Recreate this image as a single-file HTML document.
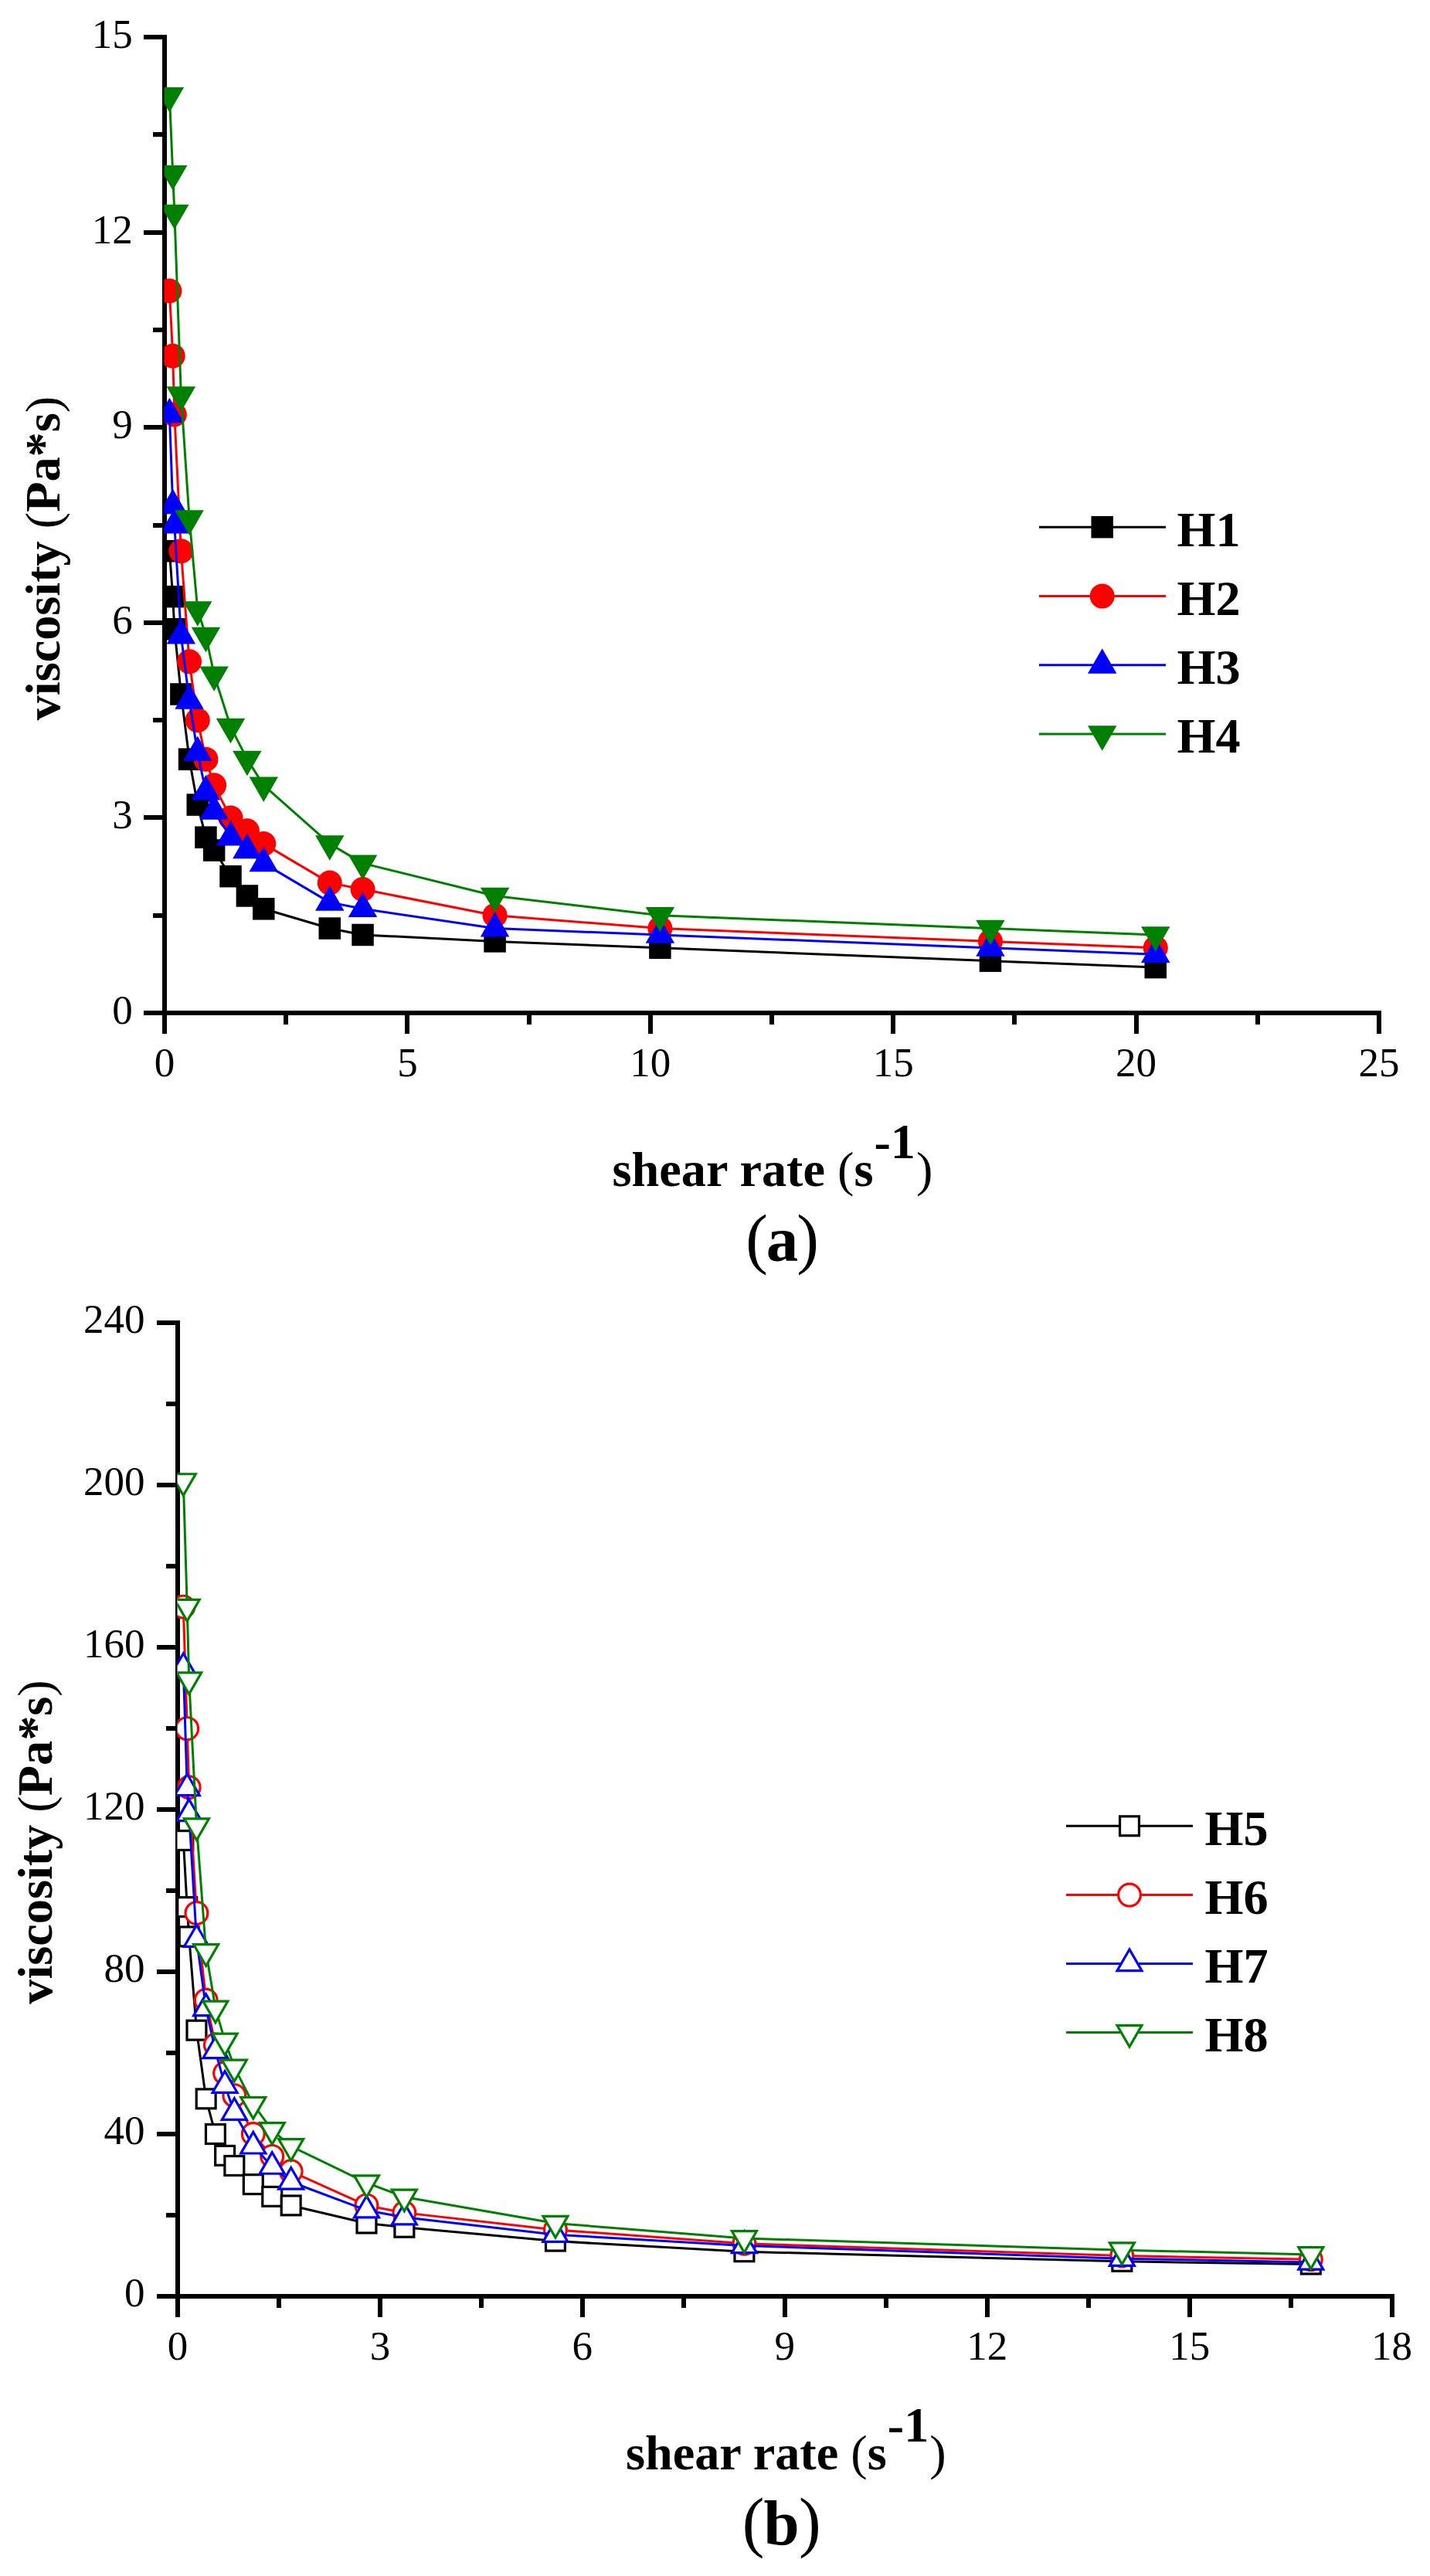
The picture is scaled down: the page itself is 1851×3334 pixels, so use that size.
<!DOCTYPE html>
<html lang="en"><head><meta charset="utf-8"><title>Viscosity vs shear rate</title>
<style>html,body{margin:0;padding:0;background:#fff}svg{display:block}</style></head>
<body>
<svg width="1851" height="3334" viewBox="0 0 1851 3334">
<rect width="1851" height="3334" fill="#fff"/>
<g id="chart1">
<g fill="#000" shape-rendering="crispEdges">
<rect x="210.00" y="45.15" width="6.0" height="1292.85"/>
<rect x="186.00" y="1308.00" width="1602.00" height="6.0"/>
<rect x="524.40" y="1314.00" width="6.0" height="24.0"/>
<rect x="838.80" y="1314.00" width="6.0" height="24.0"/>
<rect x="1153.20" y="1314.00" width="6.0" height="24.0"/>
<rect x="1467.60" y="1314.00" width="6.0" height="24.0"/>
<rect x="1782.00" y="1314.00" width="6.0" height="24.0"/>
<rect x="367.20" y="1314.00" width="6.0" height="12.0"/>
<rect x="681.60" y="1314.00" width="6.0" height="12.0"/>
<rect x="996.00" y="1314.00" width="6.0" height="12.0"/>
<rect x="1310.40" y="1314.00" width="6.0" height="12.0"/>
<rect x="1624.80" y="1314.00" width="6.0" height="12.0"/>
<rect x="186.00" y="1055.43" width="24.0" height="6.0"/>
<rect x="186.00" y="802.86" width="24.0" height="6.0"/>
<rect x="186.00" y="550.29" width="24.0" height="6.0"/>
<rect x="186.00" y="297.72" width="24.0" height="6.0"/>
<rect x="186.00" y="45.15" width="24.0" height="6.0"/>
<rect x="198.00" y="1181.71" width="12.0" height="6.0"/>
<rect x="198.00" y="929.14" width="12.0" height="6.0"/>
<rect x="198.00" y="676.58" width="12.0" height="6.0"/>
<rect x="198.00" y="424.00" width="12.0" height="6.0"/>
<rect x="198.00" y="171.43" width="12.0" height="6.0"/>
</g>
<g font-family="'Liberation Serif', serif" font-size="53" fill="#000">
<text transform="translate(213.00,1392.60) scale(1,1)" text-anchor="middle">0</text>
<text transform="translate(527.40,1392.60) scale(1,1)" text-anchor="middle">5</text>
<text transform="translate(841.80,1392.60) scale(1,1)" text-anchor="middle">10</text>
<text transform="translate(1156.20,1392.60) scale(1,1)" text-anchor="middle">15</text>
<text transform="translate(1470.60,1392.60) scale(1,1)" text-anchor="middle">20</text>
<text transform="translate(1785.00,1392.60) scale(1,1)" text-anchor="middle">25</text>
<text transform="translate(171.70,1324.80) scale(1,1)" text-anchor="end">0</text>
<text transform="translate(171.70,1072.23) scale(1,1)" text-anchor="end">3</text>
<text transform="translate(171.70,819.66) scale(1,1)" text-anchor="end">6</text>
<text transform="translate(171.70,567.09) scale(1,1)" text-anchor="end">9</text>
<text transform="translate(171.70,314.52) scale(1,1)" text-anchor="end">12</text>
<text transform="translate(171.70,61.95) scale(1,1)" text-anchor="end">15</text>
</g>
<clipPath id="clip1"><rect x="212.50" y="8.15" width="1632.00" height="1302.85"/></clipPath>
<g clip-path="url(#clip1)">
<polyline points="219.41,713.25 223.69,772.18 225.83,814.28 234.38,898.47 245.07,982.66 255.76,1041.59 266.45,1083.69 277.14,1100.53 298.52,1134.20 319.90,1159.46 341.28,1176.30 426.79,1201.55 469.55,1209.97 640.58,1218.39 854.38,1226.81 1281.96,1243.65 1495.75,1252.07" fill="none" stroke="#000000" stroke-width="3.0" stroke-linejoin="round"/>
<rect x="205.16" y="699.00" width="28.5" height="28.5" fill="#000000"/>
<rect x="209.44" y="757.93" width="28.5" height="28.5" fill="#000000"/>
<rect x="211.58" y="800.03" width="28.5" height="28.5" fill="#000000"/>
<rect x="220.13" y="884.22" width="28.5" height="28.5" fill="#000000"/>
<rect x="230.82" y="968.41" width="28.5" height="28.5" fill="#000000"/>
<rect x="241.51" y="1027.34" width="28.5" height="28.5" fill="#000000"/>
<rect x="252.20" y="1069.44" width="28.5" height="28.5" fill="#000000"/>
<rect x="262.89" y="1086.28" width="28.5" height="28.5" fill="#000000"/>
<rect x="284.27" y="1119.95" width="28.5" height="28.5" fill="#000000"/>
<rect x="305.65" y="1145.21" width="28.5" height="28.5" fill="#000000"/>
<rect x="327.03" y="1162.05" width="28.5" height="28.5" fill="#000000"/>
<rect x="412.54" y="1187.30" width="28.5" height="28.5" fill="#000000"/>
<rect x="455.30" y="1195.72" width="28.5" height="28.5" fill="#000000"/>
<rect x="626.33" y="1204.14" width="28.5" height="28.5" fill="#000000"/>
<rect x="840.13" y="1212.56" width="28.5" height="28.5" fill="#000000"/>
<rect x="1267.71" y="1229.40" width="28.5" height="28.5" fill="#000000"/>
<rect x="1481.50" y="1237.82" width="28.5" height="28.5" fill="#000000"/>
<polyline points="219.41,376.49 223.69,460.68 225.83,536.45 234.38,713.25 245.07,856.37 255.76,932.14 266.45,982.66 277.14,1016.34 298.52,1058.43 319.90,1075.27 341.28,1092.11 426.79,1142.62 469.55,1151.04 640.58,1184.71 854.38,1201.55 1281.96,1218.39 1495.75,1226.81" fill="none" stroke="#ff0000" stroke-width="3.0" stroke-linejoin="round"/>
<circle cx="219.41" cy="376.49" r="16.0" fill="#ff0000"/>
<circle cx="223.69" cy="460.68" r="16.0" fill="#ff0000"/>
<circle cx="225.83" cy="536.45" r="16.0" fill="#ff0000"/>
<circle cx="234.38" cy="713.25" r="16.0" fill="#ff0000"/>
<circle cx="245.07" cy="856.37" r="16.0" fill="#ff0000"/>
<circle cx="255.76" cy="932.14" r="16.0" fill="#ff0000"/>
<circle cx="266.45" cy="982.66" r="16.0" fill="#ff0000"/>
<circle cx="277.14" cy="1016.34" r="16.0" fill="#ff0000"/>
<circle cx="298.52" cy="1058.43" r="16.0" fill="#ff0000"/>
<circle cx="319.90" cy="1075.27" r="16.0" fill="#ff0000"/>
<circle cx="341.28" cy="1092.11" r="16.0" fill="#ff0000"/>
<circle cx="426.79" cy="1142.62" r="16.0" fill="#ff0000"/>
<circle cx="469.55" cy="1151.04" r="16.0" fill="#ff0000"/>
<circle cx="640.58" cy="1184.71" r="16.0" fill="#ff0000"/>
<circle cx="854.38" cy="1201.55" r="16.0" fill="#ff0000"/>
<circle cx="1281.96" cy="1218.39" r="16.0" fill="#ff0000"/>
<circle cx="1495.75" cy="1226.81" r="16.0" fill="#ff0000"/>
<polyline points="219.41,536.45 223.69,654.32 225.83,679.58 234.38,822.70 245.07,906.89 255.76,974.24 266.45,1024.75 277.14,1050.01 298.52,1083.69 319.90,1100.53 341.28,1117.36 426.79,1167.88 469.55,1176.30 640.58,1201.55 854.38,1209.97 1281.96,1226.81 1495.75,1235.23" fill="none" stroke="#0000ff" stroke-width="3.0" stroke-linejoin="round"/>
<polygon points="219.41,514.80 200.66,547.28 238.16,547.28" fill="#0000ff"/>
<polygon points="223.69,632.67 204.94,665.14 242.44,665.14" fill="#0000ff"/>
<polygon points="225.83,657.92 207.08,690.40 244.58,690.40" fill="#0000ff"/>
<polygon points="234.38,801.05 215.63,833.52 253.13,833.52" fill="#0000ff"/>
<polygon points="245.07,885.24 226.32,917.71 263.82,917.71" fill="#0000ff"/>
<polygon points="255.76,952.59 237.01,985.07 274.51,985.07" fill="#0000ff"/>
<polygon points="266.45,1003.10 247.70,1035.58 285.20,1035.58" fill="#0000ff"/>
<polygon points="277.14,1028.36 258.39,1060.84 295.89,1060.84" fill="#0000ff"/>
<polygon points="298.52,1062.04 279.77,1094.51 317.27,1094.51" fill="#0000ff"/>
<polygon points="319.90,1078.87 301.15,1111.35 338.65,1111.35" fill="#0000ff"/>
<polygon points="341.28,1095.71 322.53,1128.19 360.03,1128.19" fill="#0000ff"/>
<polygon points="426.79,1146.23 408.04,1178.70 445.54,1178.70" fill="#0000ff"/>
<polygon points="469.55,1154.65 450.80,1187.12 488.30,1187.12" fill="#0000ff"/>
<polygon points="640.58,1179.90 621.83,1212.38 659.33,1212.38" fill="#0000ff"/>
<polygon points="854.38,1188.32 835.63,1220.80 873.13,1220.80" fill="#0000ff"/>
<polygon points="1281.96,1205.16 1263.21,1237.64 1300.71,1237.64" fill="#0000ff"/>
<polygon points="1495.75,1213.58 1477.00,1246.05 1514.50,1246.05" fill="#0000ff"/>
<polyline points="219.41,123.92 223.69,224.95 225.83,275.46 234.38,511.20 245.07,671.16 255.76,789.02 266.45,822.70 277.14,873.21 298.52,940.56 319.90,982.66 341.28,1016.34 426.79,1092.11 469.55,1117.36 640.58,1159.46 854.38,1184.71 1281.96,1201.55 1495.75,1209.97" fill="none" stroke="#008000" stroke-width="3.0" stroke-linejoin="round"/>
<polygon points="219.41,145.57 200.66,113.10 238.16,113.10" fill="#008000"/>
<polygon points="223.69,246.60 204.94,214.12 242.44,214.12" fill="#008000"/>
<polygon points="225.83,297.11 207.08,264.64 244.58,264.64" fill="#008000"/>
<polygon points="234.38,532.85 215.63,500.37 253.13,500.37" fill="#008000"/>
<polygon points="245.07,692.81 226.32,660.33 263.82,660.33" fill="#008000"/>
<polygon points="255.76,810.67 237.01,778.20 274.51,778.20" fill="#008000"/>
<polygon points="266.45,844.35 247.70,811.87 285.20,811.87" fill="#008000"/>
<polygon points="277.14,894.86 258.39,862.39 295.89,862.39" fill="#008000"/>
<polygon points="298.52,962.21 279.77,929.74 317.27,929.74" fill="#008000"/>
<polygon points="319.90,1004.31 301.15,971.83 338.65,971.83" fill="#008000"/>
<polygon points="341.28,1037.99 322.53,1005.51 360.03,1005.51" fill="#008000"/>
<polygon points="426.79,1113.76 408.04,1081.28 445.54,1081.28" fill="#008000"/>
<polygon points="469.55,1139.01 450.80,1106.54 488.30,1106.54" fill="#008000"/>
<polygon points="640.58,1181.11 621.83,1148.63 659.33,1148.63" fill="#008000"/>
<polygon points="854.38,1206.37 835.63,1173.89 873.13,1173.89" fill="#008000"/>
<polygon points="1281.96,1223.20 1263.21,1190.73 1300.71,1190.73" fill="#008000"/>
<polygon points="1495.75,1231.62 1477.00,1199.15 1514.50,1199.15" fill="#008000"/>
</g>
<line x1="1345" y1="682.2" x2="1509" y2="682.2" stroke="#000000" stroke-width="3.0"/>
<rect x="1412.45" y="667.95" width="28.5" height="28.5" fill="#000000"/>
<text x="1523.5" y="706.50" font-family="'Liberation Serif', serif" font-weight="bold" font-size="64.25" fill="#000">H1</text>
<line x1="1345" y1="771.6" x2="1509" y2="771.6" stroke="#ff0000" stroke-width="3.0"/>
<circle cx="1426.70" cy="771.60" r="16.0" fill="#ff0000"/>
<text x="1523.5" y="795.90" font-family="'Liberation Serif', serif" font-weight="bold" font-size="64.25" fill="#000">H2</text>
<line x1="1345" y1="860.8" x2="1509" y2="860.8" stroke="#0000ff" stroke-width="3.0"/>
<polygon points="1426.70,839.15 1407.95,871.63 1445.45,871.63" fill="#0000ff"/>
<text x="1523.5" y="885.10" font-family="'Liberation Serif', serif" font-weight="bold" font-size="64.25" fill="#000">H3</text>
<line x1="1345" y1="950.0" x2="1509" y2="950.0" stroke="#008000" stroke-width="3.0"/>
<polygon points="1426.70,971.65 1407.95,939.17 1445.45,939.17" fill="#008000"/>
<text x="1523.5" y="974.30" font-family="'Liberation Serif', serif" font-weight="bold" font-size="64.25" fill="#000">H4</text>
<text x="1000.0" y="1534.7" text-anchor="middle" font-family="'Liberation Serif', serif" font-weight="bold" font-size="64.25" fill="#000">shear rate <tspan font-weight="normal">(</tspan>s<tspan dy="-35.5" dx="1">-1</tspan><tspan dy="35.5" dx="1" font-weight="normal">)</tspan></text>
<text x="1012.6" y="1631.5" text-anchor="middle" font-family="'Liberation Serif', serif" font-size="86" fill="#000">(<tspan font-weight="bold" font-size="83" dx="-2">a</tspan><tspan dx="-2">)</tspan></text>
<text transform="translate(76.6,722.6) rotate(-90)" text-anchor="middle" font-family="'Liberation Serif', serif" font-weight="bold" font-size="64.25" fill="#000">viscosity <tspan font-weight="normal">(</tspan>Pa*s<tspan font-weight="normal">)</tspan></text>
</g>
<g id="chart2">
<g fill="#000" shape-rendering="crispEdges">
<rect x="227.00" y="1709.24" width="6.0" height="1289.76"/>
<rect x="203.00" y="2969.00" width="1601.58" height="6.0"/>
<rect x="488.93" y="2975.00" width="6.0" height="24.0"/>
<rect x="750.86" y="2975.00" width="6.0" height="24.0"/>
<rect x="1012.79" y="2975.00" width="6.0" height="24.0"/>
<rect x="1274.72" y="2975.00" width="6.0" height="24.0"/>
<rect x="1536.65" y="2975.00" width="6.0" height="24.0"/>
<rect x="1798.58" y="2975.00" width="6.0" height="24.0"/>
<rect x="357.97" y="2975.00" width="6.0" height="12.0"/>
<rect x="619.89" y="2975.00" width="6.0" height="12.0"/>
<rect x="881.83" y="2975.00" width="6.0" height="12.0"/>
<rect x="1143.76" y="2975.00" width="6.0" height="12.0"/>
<rect x="1405.68" y="2975.00" width="6.0" height="12.0"/>
<rect x="1667.62" y="2975.00" width="6.0" height="12.0"/>
<rect x="203.00" y="2759.04" width="24.0" height="6.0"/>
<rect x="203.00" y="2549.08" width="24.0" height="6.0"/>
<rect x="203.00" y="2339.12" width="24.0" height="6.0"/>
<rect x="203.00" y="2129.16" width="24.0" height="6.0"/>
<rect x="203.00" y="1919.20" width="24.0" height="6.0"/>
<rect x="203.00" y="1709.24" width="24.0" height="6.0"/>
<rect x="215.00" y="2864.02" width="12.0" height="6.0"/>
<rect x="215.00" y="2654.06" width="12.0" height="6.0"/>
<rect x="215.00" y="2444.10" width="12.0" height="6.0"/>
<rect x="215.00" y="2234.14" width="12.0" height="6.0"/>
<rect x="215.00" y="2024.18" width="12.0" height="6.0"/>
<rect x="215.00" y="1814.22" width="12.0" height="6.0"/>
</g>
<g font-family="'Liberation Serif', serif" font-size="53" fill="#000">
<text transform="translate(230.00,3053.60) scale(1,1)" text-anchor="middle">0</text>
<text transform="translate(491.93,3053.60) scale(1,1)" text-anchor="middle">3</text>
<text transform="translate(753.86,3053.60) scale(1,1)" text-anchor="middle">6</text>
<text transform="translate(1015.79,3053.60) scale(1,1)" text-anchor="middle">9</text>
<text transform="translate(1277.72,3053.60) scale(1,1)" text-anchor="middle">12</text>
<text transform="translate(1539.65,3053.60) scale(1,1)" text-anchor="middle">15</text>
<text transform="translate(1801.58,3053.60) scale(1,1)" text-anchor="middle">18</text>
<text transform="translate(187.50,2985.00) scale(1,1)" text-anchor="end">0</text>
<text transform="translate(187.50,2775.04) scale(1,1)" text-anchor="end">40</text>
<text transform="translate(187.50,2565.08) scale(1,1)" text-anchor="end">80</text>
<text transform="translate(187.50,2355.12) scale(1,1)" text-anchor="end">120</text>
<text transform="translate(187.50,2145.16) scale(1,1)" text-anchor="end">160</text>
<text transform="translate(187.50,1935.20) scale(1,1)" text-anchor="end">200</text>
<text transform="translate(187.50,1725.24) scale(1,1)" text-anchor="end">240</text>
</g>
<clipPath id="clip2"><rect x="229.50" y="1672.24" width="1631.58" height="1299.76"/></clipPath>
<g clip-path="url(#clip2)">
<polyline points="237.33,2382.01 242.22,2468.10 244.67,2506.41 254.45,2627.67 266.67,2716.37 278.89,2762.04 291.12,2789.86 303.34,2802.98 327.79,2827.13 352.23,2842.87 376.68,2854.42 474.47,2877.52 523.36,2882.77 718.94,2900.61 963.40,2914.26 1452.34,2926.86 1696.81,2930.53" fill="none" stroke="#000000" stroke-width="3.0" stroke-linejoin="round"/>
<rect x="224.88" y="2369.56" width="24.90" height="24.90" fill="#fff" stroke="#000000" stroke-width="3.2" stroke-linejoin="miter"/>
<rect x="229.77" y="2455.65" width="24.90" height="24.90" fill="#fff" stroke="#000000" stroke-width="3.2" stroke-linejoin="miter"/>
<rect x="232.22" y="2493.96" width="24.90" height="24.90" fill="#fff" stroke="#000000" stroke-width="3.2" stroke-linejoin="miter"/>
<rect x="242.00" y="2615.22" width="24.90" height="24.90" fill="#fff" stroke="#000000" stroke-width="3.2" stroke-linejoin="miter"/>
<rect x="254.22" y="2703.92" width="24.90" height="24.90" fill="#fff" stroke="#000000" stroke-width="3.2" stroke-linejoin="miter"/>
<rect x="266.44" y="2749.59" width="24.90" height="24.90" fill="#fff" stroke="#000000" stroke-width="3.2" stroke-linejoin="miter"/>
<rect x="278.67" y="2777.41" width="24.90" height="24.90" fill="#fff" stroke="#000000" stroke-width="3.2" stroke-linejoin="miter"/>
<rect x="290.89" y="2790.53" width="24.90" height="24.90" fill="#fff" stroke="#000000" stroke-width="3.2" stroke-linejoin="miter"/>
<rect x="315.34" y="2814.68" width="24.90" height="24.90" fill="#fff" stroke="#000000" stroke-width="3.2" stroke-linejoin="miter"/>
<rect x="339.78" y="2830.42" width="24.90" height="24.90" fill="#fff" stroke="#000000" stroke-width="3.2" stroke-linejoin="miter"/>
<rect x="364.23" y="2841.97" width="24.90" height="24.90" fill="#fff" stroke="#000000" stroke-width="3.2" stroke-linejoin="miter"/>
<rect x="462.02" y="2865.07" width="24.90" height="24.90" fill="#fff" stroke="#000000" stroke-width="3.2" stroke-linejoin="miter"/>
<rect x="510.91" y="2870.32" width="24.90" height="24.90" fill="#fff" stroke="#000000" stroke-width="3.2" stroke-linejoin="miter"/>
<rect x="706.49" y="2888.16" width="24.90" height="24.90" fill="#fff" stroke="#000000" stroke-width="3.2" stroke-linejoin="miter"/>
<rect x="950.95" y="2901.81" width="24.90" height="24.90" fill="#fff" stroke="#000000" stroke-width="3.2" stroke-linejoin="miter"/>
<rect x="1439.89" y="2914.41" width="24.90" height="24.90" fill="#fff" stroke="#000000" stroke-width="3.2" stroke-linejoin="miter"/>
<rect x="1684.36" y="2918.08" width="24.90" height="24.90" fill="#fff" stroke="#000000" stroke-width="3.2" stroke-linejoin="miter"/>
<polyline points="237.33,2079.67 242.22,2237.14 244.67,2313.25 254.45,2475.97 266.67,2588.82 278.89,2646.56 291.12,2683.30 303.34,2712.17 327.79,2762.04 352.23,2790.91 376.68,2810.33 474.47,2854.42 523.36,2863.87 718.94,2885.92 963.40,2903.76 1452.34,2919.51 1696.81,2924.23" fill="none" stroke="#ff0000" stroke-width="3.0" stroke-linejoin="round"/>
<circle cx="237.33" cy="2079.67" r="14.40" fill="#fff" stroke="#ff0000" stroke-width="3.2" stroke-linejoin="miter"/>
<circle cx="242.22" cy="2237.14" r="14.40" fill="#fff" stroke="#ff0000" stroke-width="3.2" stroke-linejoin="miter"/>
<circle cx="244.67" cy="2313.25" r="14.40" fill="#fff" stroke="#ff0000" stroke-width="3.2" stroke-linejoin="miter"/>
<circle cx="254.45" cy="2475.97" r="14.40" fill="#fff" stroke="#ff0000" stroke-width="3.2" stroke-linejoin="miter"/>
<circle cx="266.67" cy="2588.82" r="14.40" fill="#fff" stroke="#ff0000" stroke-width="3.2" stroke-linejoin="miter"/>
<circle cx="278.89" cy="2646.56" r="14.40" fill="#fff" stroke="#ff0000" stroke-width="3.2" stroke-linejoin="miter"/>
<circle cx="291.12" cy="2683.30" r="14.40" fill="#fff" stroke="#ff0000" stroke-width="3.2" stroke-linejoin="miter"/>
<circle cx="303.34" cy="2712.17" r="14.40" fill="#fff" stroke="#ff0000" stroke-width="3.2" stroke-linejoin="miter"/>
<circle cx="327.79" cy="2762.04" r="14.40" fill="#fff" stroke="#ff0000" stroke-width="3.2" stroke-linejoin="miter"/>
<circle cx="352.23" cy="2790.91" r="14.40" fill="#fff" stroke="#ff0000" stroke-width="3.2" stroke-linejoin="miter"/>
<circle cx="376.68" cy="2810.33" r="14.40" fill="#fff" stroke="#ff0000" stroke-width="3.2" stroke-linejoin="miter"/>
<circle cx="474.47" cy="2854.42" r="14.40" fill="#fff" stroke="#ff0000" stroke-width="3.2" stroke-linejoin="miter"/>
<circle cx="523.36" cy="2863.87" r="14.40" fill="#fff" stroke="#ff0000" stroke-width="3.2" stroke-linejoin="miter"/>
<circle cx="718.94" cy="2885.92" r="14.40" fill="#fff" stroke="#ff0000" stroke-width="3.2" stroke-linejoin="miter"/>
<circle cx="963.40" cy="2903.76" r="14.40" fill="#fff" stroke="#ff0000" stroke-width="3.2" stroke-linejoin="miter"/>
<circle cx="1452.34" cy="2919.51" r="14.40" fill="#fff" stroke="#ff0000" stroke-width="3.2" stroke-linejoin="miter"/>
<circle cx="1696.81" cy="2924.23" r="14.40" fill="#fff" stroke="#ff0000" stroke-width="3.2" stroke-linejoin="miter"/>
<polyline points="237.33,2158.41 242.22,2314.30 244.67,2347.37 254.45,2510.09 266.67,2599.32 278.89,2654.44 291.12,2699.05 303.34,2734.22 327.79,2777.79 352.23,2804.03 376.68,2823.98 474.47,2860.72 523.36,2869.64 718.94,2892.22 963.40,2906.39 1452.34,2923.18 1696.81,2927.91" fill="none" stroke="#0000ff" stroke-width="3.0" stroke-linejoin="round"/>
<polygon points="237.33,2139.95 221.36,2167.63 253.31,2167.63" fill="#fff" stroke="#0000ff" stroke-width="3.2" stroke-linejoin="miter"/>
<polygon points="242.22,2295.85 226.24,2323.53 258.20,2323.53" fill="#fff" stroke="#0000ff" stroke-width="3.2" stroke-linejoin="miter"/>
<polygon points="244.67,2328.92 228.69,2356.59 260.65,2356.59" fill="#fff" stroke="#0000ff" stroke-width="3.2" stroke-linejoin="miter"/>
<polygon points="254.45,2491.64 238.47,2519.31 270.43,2519.31" fill="#fff" stroke="#0000ff" stroke-width="3.2" stroke-linejoin="miter"/>
<polygon points="266.67,2580.87 250.69,2608.55 282.65,2608.55" fill="#fff" stroke="#0000ff" stroke-width="3.2" stroke-linejoin="miter"/>
<polygon points="278.89,2635.98 262.91,2663.66 294.87,2663.66" fill="#fff" stroke="#0000ff" stroke-width="3.2" stroke-linejoin="miter"/>
<polygon points="291.12,2680.60 275.14,2708.28 307.10,2708.28" fill="#fff" stroke="#0000ff" stroke-width="3.2" stroke-linejoin="miter"/>
<polygon points="303.34,2715.77 287.36,2743.45 319.32,2743.45" fill="#fff" stroke="#0000ff" stroke-width="3.2" stroke-linejoin="miter"/>
<polygon points="327.79,2759.34 311.81,2787.01 343.77,2787.01" fill="#fff" stroke="#0000ff" stroke-width="3.2" stroke-linejoin="miter"/>
<polygon points="352.23,2785.58 336.26,2813.26 368.21,2813.26" fill="#fff" stroke="#0000ff" stroke-width="3.2" stroke-linejoin="miter"/>
<polygon points="376.68,2805.53 360.70,2833.20 392.66,2833.20" fill="#fff" stroke="#0000ff" stroke-width="3.2" stroke-linejoin="miter"/>
<polygon points="474.47,2842.27 458.49,2869.95 490.45,2869.95" fill="#fff" stroke="#0000ff" stroke-width="3.2" stroke-linejoin="miter"/>
<polygon points="523.36,2851.19 507.38,2878.87 539.34,2878.87" fill="#fff" stroke="#0000ff" stroke-width="3.2" stroke-linejoin="miter"/>
<polygon points="718.94,2873.76 702.96,2901.44 734.91,2901.44" fill="#fff" stroke="#0000ff" stroke-width="3.2" stroke-linejoin="miter"/>
<polygon points="963.40,2887.94 947.43,2915.61 979.38,2915.61" fill="#fff" stroke="#0000ff" stroke-width="3.2" stroke-linejoin="miter"/>
<polygon points="1452.34,2904.73 1436.36,2932.41 1468.32,2932.41" fill="#fff" stroke="#0000ff" stroke-width="3.2" stroke-linejoin="miter"/>
<polygon points="1696.81,2909.46 1680.83,2937.13 1712.79,2937.13" fill="#fff" stroke="#0000ff" stroke-width="3.2" stroke-linejoin="miter"/>
<polyline points="237.33,1916.95 242.22,2079.67 244.67,2174.15 254.45,2363.12 266.67,2525.84 278.89,2599.32 291.12,2641.31 303.34,2675.43 327.79,2723.72 352.23,2756.79 376.68,2777.79 474.47,2825.03 523.36,2843.40 718.94,2877.52 963.40,2896.94 1452.34,2912.16 1696.81,2917.94" fill="none" stroke="#008000" stroke-width="3.0" stroke-linejoin="round"/>
<polygon points="237.33,1935.40 221.36,1907.73 253.31,1907.73" fill="#fff" stroke="#008000" stroke-width="3.2" stroke-linejoin="miter"/>
<polygon points="242.22,2098.12 226.24,2070.44 258.20,2070.44" fill="#fff" stroke="#008000" stroke-width="3.2" stroke-linejoin="miter"/>
<polygon points="244.67,2192.60 228.69,2164.93 260.65,2164.93" fill="#fff" stroke="#008000" stroke-width="3.2" stroke-linejoin="miter"/>
<polygon points="254.45,2381.57 238.47,2353.89 270.43,2353.89" fill="#fff" stroke="#008000" stroke-width="3.2" stroke-linejoin="miter"/>
<polygon points="266.67,2544.29 250.69,2516.61 282.65,2516.61" fill="#fff" stroke="#008000" stroke-width="3.2" stroke-linejoin="miter"/>
<polygon points="278.89,2617.77 262.91,2590.10 294.87,2590.10" fill="#fff" stroke="#008000" stroke-width="3.2" stroke-linejoin="miter"/>
<polygon points="291.12,2659.76 275.14,2632.09 307.10,2632.09" fill="#fff" stroke="#008000" stroke-width="3.2" stroke-linejoin="miter"/>
<polygon points="303.34,2693.88 287.36,2666.21 319.32,2666.21" fill="#fff" stroke="#008000" stroke-width="3.2" stroke-linejoin="miter"/>
<polygon points="327.79,2742.17 311.81,2714.50 343.77,2714.50" fill="#fff" stroke="#008000" stroke-width="3.2" stroke-linejoin="miter"/>
<polygon points="352.23,2775.24 336.26,2747.57 368.21,2747.57" fill="#fff" stroke="#008000" stroke-width="3.2" stroke-linejoin="miter"/>
<polygon points="376.68,2796.24 360.70,2768.56 392.66,2768.56" fill="#fff" stroke="#008000" stroke-width="3.2" stroke-linejoin="miter"/>
<polygon points="474.47,2843.48 458.49,2815.80 490.45,2815.80" fill="#fff" stroke="#008000" stroke-width="3.2" stroke-linejoin="miter"/>
<polygon points="523.36,2861.85 507.38,2834.17 539.34,2834.17" fill="#fff" stroke="#008000" stroke-width="3.2" stroke-linejoin="miter"/>
<polygon points="718.94,2895.97 702.96,2868.29 734.91,2868.29" fill="#fff" stroke="#008000" stroke-width="3.2" stroke-linejoin="miter"/>
<polygon points="963.40,2915.39 947.43,2887.71 979.38,2887.71" fill="#fff" stroke="#008000" stroke-width="3.2" stroke-linejoin="miter"/>
<polygon points="1452.34,2930.61 1436.36,2902.94 1468.32,2902.94" fill="#fff" stroke="#008000" stroke-width="3.2" stroke-linejoin="miter"/>
<polygon points="1696.81,2936.39 1680.83,2908.71 1712.79,2908.71" fill="#fff" stroke="#008000" stroke-width="3.2" stroke-linejoin="miter"/>
</g>
<line x1="1380" y1="2363.3" x2="1544" y2="2363.3" stroke="#000000" stroke-width="3.0"/>
<rect x="1449.55" y="2350.85" width="24.90" height="24.90" fill="#fff" stroke="#000000" stroke-width="3.2" stroke-linejoin="miter"/>
<text x="1559.5" y="2387.60" font-family="'Liberation Serif', serif" font-weight="bold" font-size="64.25" fill="#000">H5</text>
<line x1="1380" y1="2452.6" x2="1544" y2="2452.6" stroke="#ff0000" stroke-width="3.0"/>
<circle cx="1462.00" cy="2452.60" r="14.40" fill="#fff" stroke="#ff0000" stroke-width="3.2" stroke-linejoin="miter"/>
<text x="1559.5" y="2476.90" font-family="'Liberation Serif', serif" font-weight="bold" font-size="64.25" fill="#000">H6</text>
<line x1="1380" y1="2541.4" x2="1544" y2="2541.4" stroke="#0000ff" stroke-width="3.0"/>
<polygon points="1462.00,2522.95 1446.02,2550.63 1477.98,2550.63" fill="#fff" stroke="#0000ff" stroke-width="3.2" stroke-linejoin="miter"/>
<text x="1559.5" y="2565.70" font-family="'Liberation Serif', serif" font-weight="bold" font-size="64.25" fill="#000">H7</text>
<line x1="1380" y1="2630.6" x2="1544" y2="2630.6" stroke="#008000" stroke-width="3.0"/>
<polygon points="1462.00,2649.05 1446.02,2621.37 1477.98,2621.37" fill="#fff" stroke="#008000" stroke-width="3.2" stroke-linejoin="miter"/>
<text x="1559.5" y="2654.90" font-family="'Liberation Serif', serif" font-weight="bold" font-size="64.25" fill="#000">H8</text>
<text x="1017.3" y="3195.5" text-anchor="middle" font-family="'Liberation Serif', serif" font-weight="bold" font-size="64.25" fill="#000">shear rate <tspan font-weight="normal">(</tspan>s<tspan dy="-35.5" dx="1">-1</tspan><tspan dy="35.5" dx="1" font-weight="normal">)</tspan></text>
<text x="1011.7" y="3292.5" text-anchor="middle" font-family="'Liberation Serif', serif" font-size="86" fill="#000">(<tspan font-weight="bold" font-size="83" dx="-0.7">b</tspan><tspan dx="-0.7">)</tspan></text>
<text transform="translate(66.7,2384.0) rotate(-90)" text-anchor="middle" font-family="'Liberation Serif', serif" font-weight="bold" font-size="64.25" fill="#000">viscosity <tspan font-weight="normal">(</tspan>Pa*s<tspan font-weight="normal">)</tspan></text>
</g>
</svg>
</body></html>
